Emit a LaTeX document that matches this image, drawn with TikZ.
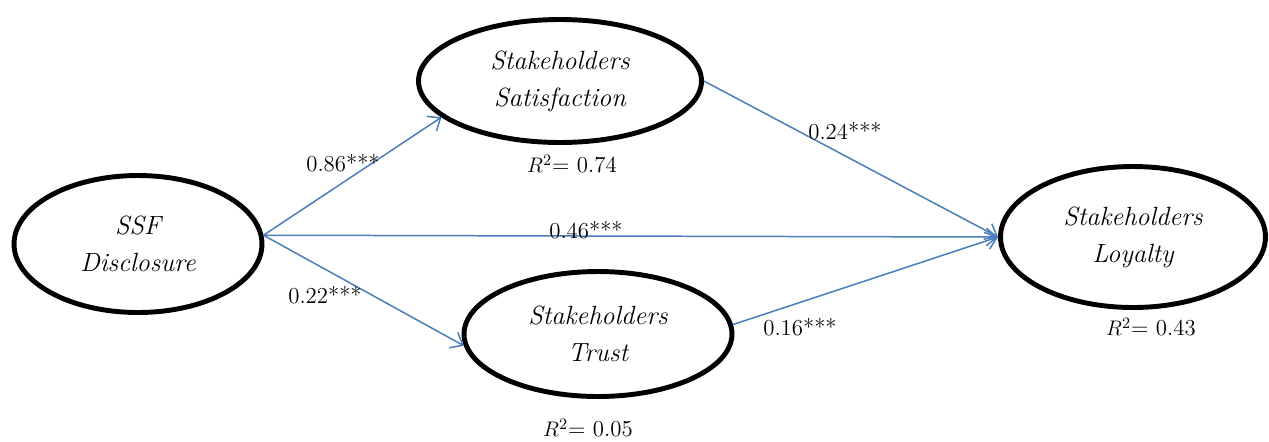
\documentclass[tikz,border=0pt]{standalone}
\usepackage{amsmath}
\usepackage{xcolor}
\usepackage{tikz}
\usetikzlibrary{shapes.geometric, arrows.meta, positioning}
\definecolor{pathblue}{HTML}{4A7EBB}

\begin{document}
\begin{tikzpicture}[x=0.02cm, y=-0.02cm,
    latent/.style={ellipse, draw=black, line width=2.8pt, inner sep=0pt, align=center, font=\fontsize{15}{21}\selectfont\itshape},
    arrow/.style={-{Straight Barb[length=6pt,width=10pt]}, line width=0.85pt, pathblue},
    coef/.style={font=\fontsize{13}{15}\selectfont, inner sep=0pt}
]
\useasboundingbox (0,0) rectangle (1269,441);

\node[latent, minimum width=4.96cm, minimum height=2.74cm] (ssf) at (138,244) {SSF\\Disclosure};
\node[latent, minimum width=5.66cm, minimum height=2.46cm] (sat) at (560,81) {Stakeholders\\Satisfaction};
\node[latent, minimum width=5.36cm, minimum height=2.5cm] (trust) at (598,334) {Stakeholders\\Trust};
\node[latent, minimum width=5.3cm, minimum height=2.82cm] (loy) at (1133,237) {Stakeholders\\Loyalty};

\draw[arrow] (ssf.4) -- (sat.197);
\draw[arrow] (ssf.4) -- (loy.west);
\draw[arrow] (ssf.4) -- (trust.185);
\draw[arrow] (sat.east) -- (loy.west);
\draw[arrow] (trust.4) -- (loy.west);

\node[coef] (b1) at (343,163) {0.86***};
\node[coef] (b2) at (845,131) {0.24***};
\node[coef] (b3) at (586,230) {0.46***};
\node[coef] (b4) at (325,295) {0.22***};
\node[coef] (b5) at (800,327) {0.16***};

\node[coef] (r1) at (572,164) {$R^2$= 0.74};
\node[coef] (r2) at (588,428) {$R^2$= 0.05};
\node[coef] (r3) at (1151,327) {$R^2$= 0.43};
\end{tikzpicture}
\end{document}
